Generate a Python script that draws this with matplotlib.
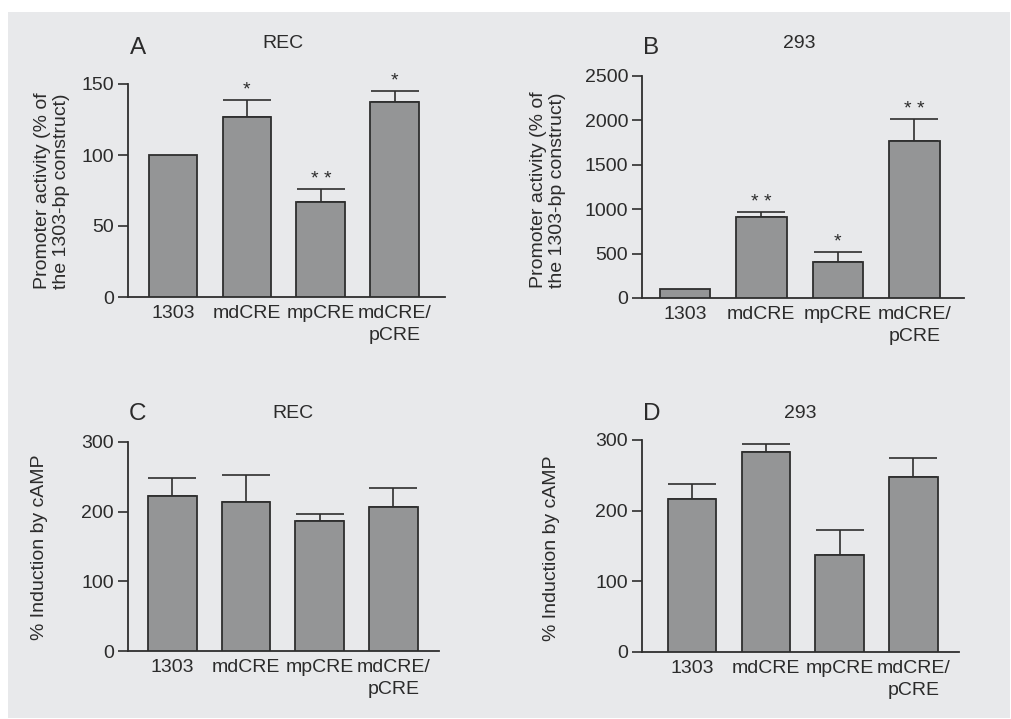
import matplotlib
matplotlib.use("Agg")
import matplotlib.pyplot as plt
from matplotlib.patches import Rectangle

plt.rcParams['font.family'] = ['Liberation Sans', 'DejaVu Sans']

categories = ["1303", "mdCRE", "mpCRE", "mdCRE/\npCRE"]

# Panel A: REC promoter activity
a_vals = [100, 127, 67, 137]
a_err = [0, 139, 76, 145]
a_sig = ["", "*", "**", "*"]
# Panel B: 293 promoter activity
b_vals = [100, 910, 410, 1768]
b_err = [0, 965, 518, 2016]
b_sig = ["", "**", "*", "**"]
# Panel C: REC induction by cAMP
c_vals = [222, 214, 187, 207]
c_err = [248, 252, 197, 234]
# Panel D: 293 induction by cAMP
d_vals = [216, 283, 137, 248]
d_err = [238, 294, 173, 274]

W, H = 1011, 719
fig = plt.figure(figsize=(W / 100, H / 100), dpi=100)
fig.patch.set_facecolor("white")
BG = "#e8e9eb"
TXT = "#2b2b2b"
BAR = "#949596"
EDGE = "#2e2e2e"
FS = 14
fig.patches.append(Rectangle((8 / W, 1 - 718 / H), (1010 - 8) / W, (718 - 12) / H,
                             transform=fig.transFigure, facecolor=BG, edgecolor="none", zorder=-5))


def make_ax(x0, x1, ytop, ybot):
    ax = fig.add_axes([x0 / W, 1 - ybot / H, (x1 - x0) / W, (ybot - ytop) / H])
    ax.set_facecolor("none")
    return ax


def draw(ax, vals, errs, sigs, ylim, yticks, xlim, sig_off, ylabel, lab_xy):
    x = list(range(len(vals)))
    up = [max(e - v, 0) for v, e in zip(vals, errs)]
    ax.bar(x, vals, width=0.66, color=BAR, edgecolor=EDGE, linewidth=1.3, zorder=3)
    for xi, v, u in zip(x, vals, up):
        if u > 0:
            ax.errorbar([xi], [v], yerr=[[0], [u]], fmt="none", ecolor=EDGE,
                        elinewidth=1.2, capsize=17, capthick=1.2, zorder=2)
    if sigs:
        for xi, e, v, s in zip(x, errs, vals, sigs):
            if s:
                top = max(e, v)
                ax.text(xi, top + sig_off, " ".join(s),
                        ha="center", va="bottom", fontsize=FS, color=TXT, zorder=4)
    ax.set_ylim(*ylim)
    ax.set_xlim(*xlim)
    ax.set_yticks(yticks)
    ax.set_xticks(x)
    ax.set_xticklabels(categories, fontsize=FS, color=TXT, linespacing=1.35)
    ax.tick_params(axis="x", length=0, pad=6)
    ax.tick_params(axis="y", length=7, width=1.2, colors=EDGE, labelsize=FS,
                   labelcolor=TXT, pad=3)
    for s in ("top", "right"):
        ax.spines[s].set_visible(False)
    for s in ("left", "bottom"):
        ax.spines[s].set_color(EDGE)
        ax.spines[s].set_linewidth(1.3)
    fig.text(lab_xy[0] / W, 1 - lab_xy[1] / H, ylabel, rotation=90, ha="center",
             va="center", fontsize=FS, color=TXT, linespacing=1.2)


axA = make_ax(128, 445, 84, 297)
draw(axA, a_vals, a_err, a_sig, (0, 150), [0, 50, 100, 150], (-0.61, 3.68), 1.0,
     "Promoter activity (% of\nthe 1303-bp construct)", (52, 191))
axB = make_ax(642, 964, 76, 298)
draw(axB, b_vals, b_err, b_sig, (0, 2500), [0, 500, 1000, 1500, 2000, 2500],
     (-0.56, 3.65), 15, "Promoter activity (% of\nthe 1303-bp construct)", (548, 190))
axC = make_ax(128, 439, 442, 651)
draw(axC, c_vals, c_err, None, (0, 300), [0, 100, 200, 300], (-0.6, 3.62), 0,
     "% Induction by cAMP", (40, 547))
axD = make_ax(642, 959, 440, 652)
draw(axD, d_vals, d_err, None, (0, 300), [0, 100, 200, 300], (-0.68, 3.62), 0,
     "% Induction by cAMP", (551, 548))

panel_text = [("A", 138, 48, 283, 43, "REC"), ("B", 651, 48, 799, 43, "293"),
              ("C", 137, 414, 293, 413, "REC"), ("D", 652, 414, 800, 413, "293")]
for lab, lx, ly, tx, ty, title in panel_text:
    fig.text(lx / W, 1 - ly / H, lab, ha="center", va="center", fontsize=17.5, color=TXT)
    fig.text(tx / W, 1 - ty / H, title, ha="center", va="center", fontsize=FS, color=TXT)

fig.savefig("out.png", dpi=100, facecolor=fig.get_facecolor())
